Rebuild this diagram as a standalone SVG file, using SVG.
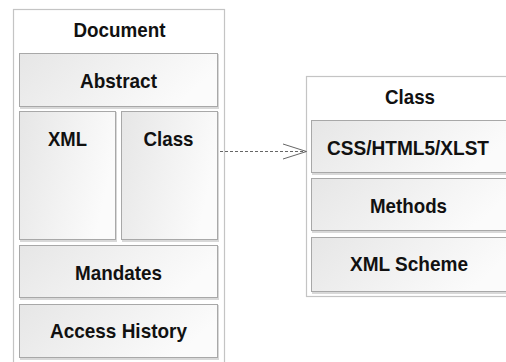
<svg xmlns="http://www.w3.org/2000/svg" width="506" height="362" viewBox="0 0 506 362">
<style>
.outer{fill:#ffffff;stroke:#c4c4c4;stroke-width:1.2}
.box{fill:url(#g);stroke:#a8a8a8;stroke-width:1}
.sh{fill:#d8d8d8}
text{font-family:"Liberation Sans",Arial,sans-serif;font-weight:bold;font-size:21px;fill:#111;text-anchor:middle}
.conn{fill:none;stroke:#666;stroke-width:1}
</style>
<defs>
<linearGradient id="g" x1="0" y1="0" x2="1" y2="0.3">
<stop offset="0" stop-color="#e6e6e6"/>
<stop offset="1" stop-color="#fbfbfb"/>
</linearGradient>
</defs>
<g id="document">
<rect class="outer" x="13.5" y="9.5" width="211" height="360"/>
<text x="119.5" y="37" textLength="92" lengthAdjust="spacingAndGlyphs">Document</text>
</g>
<g id="abstract">
<rect class="sh" x="20" y="54" width="199" height="55"/>
<rect class="box" x="19.5" y="53.5" width="198" height="53"/>
<text x="118.5" y="88" textLength="77" lengthAdjust="spacingAndGlyphs">Abstract</text>
</g>
<g id="xml">
<rect class="sh" x="20" y="112" width="97" height="130"/>
<rect class="box" x="19.5" y="111.5" width="96" height="128"/>
<text x="67.5" y="146" textLength="39" lengthAdjust="spacingAndGlyphs">XML</text>
</g>
<g id="class-left">
<rect class="sh" x="122" y="112" width="97" height="130"/>
<rect class="box" x="121.5" y="111.5" width="96" height="128"/>
<text x="168.5" y="146" textLength="50" lengthAdjust="spacingAndGlyphs">Class</text>
</g>
<g id="mandates">
<rect class="sh" x="20" y="246" width="199" height="54"/>
<rect class="box" x="19.5" y="245.5" width="198" height="52"/>
<text x="118.5" y="280" textLength="87" lengthAdjust="spacingAndGlyphs">Mandates</text>
</g>
<g id="access-history">
<rect class="sh" x="20" y="305" width="199" height="55"/>
<rect class="box" x="19.5" y="304.5" width="198" height="53"/>
<text x="118.5" y="338" textLength="137" lengthAdjust="spacingAndGlyphs">Access History</text>
</g>
<g id="class-right">
<rect class="outer" x="306.5" y="76.5" width="210" height="220"/>
<text x="410" y="104" textLength="50" lengthAdjust="spacingAndGlyphs">Class</text>
</g>
<g id="css">
<rect class="sh" x="312" y="121" width="200" height="54"/>
<rect class="box" x="311.5" y="120.5" width="200" height="52"/>
<text x="408" y="155" textLength="162" lengthAdjust="spacingAndGlyphs">CSS/HTML5/XLST</text>
</g>
<g id="methods">
<rect class="sh" x="312" y="179" width="200" height="54"/>
<rect class="box" x="311.5" y="178.5" width="200" height="52"/>
<text x="408.5" y="213" textLength="77" lengthAdjust="spacingAndGlyphs">Methods</text>
</g>
<g id="xml-scheme">
<rect class="sh" x="312" y="238" width="200" height="56"/>
<rect class="box" x="311.5" y="237.5" width="200" height="54"/>
<text x="409" y="271" textLength="118" lengthAdjust="spacingAndGlyphs">XML Scheme</text>
</g>
<g id="connectors">
<line class="conn" x1="220" y1="151.5" x2="306" y2="151.5" stroke-dasharray="3,2"/>
<polyline class="conn" points="283,144 306.5,151.5 283,159"/>
</g>
</svg>
